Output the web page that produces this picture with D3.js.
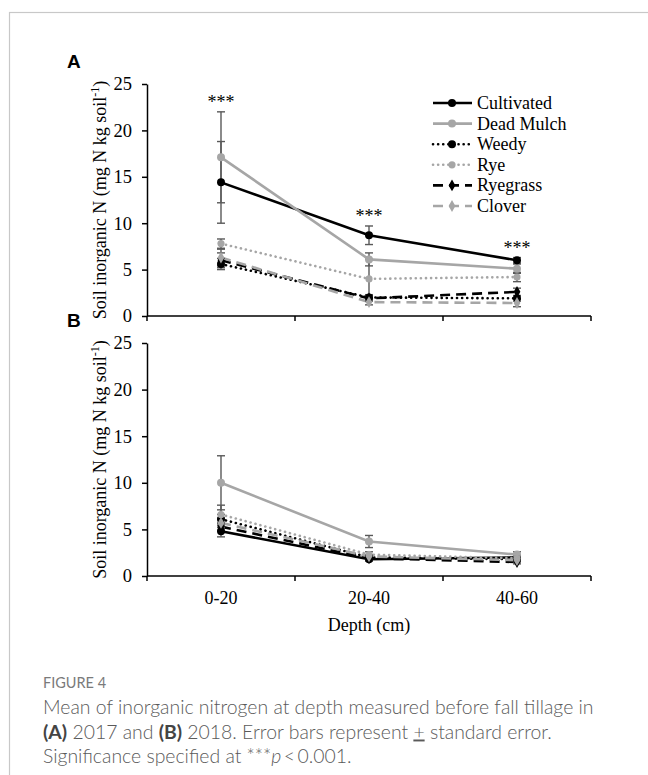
<!DOCTYPE html>
<html><head><meta charset="utf-8">
<script src="https://cdn.jsdelivr.net/npm/d3@7"></script>
<style>body{margin:0;background:#fff}</style></head>
<body>
<svg id="c" width="648" height="775"></svg>
<script>
// ---- data ----
const depths = ["0-20", "20-40", "40-60"];
const seriesNames = ["Cultivated", "Dead Mulch", "Weedy", "Rye", "Ryegrass", "Clover"];
const yTicks = [0, 5, 10, 15, 20, 25];
const sigLabelsA = ["***", "***", "***"];

// Panel A (2017) means and standard errors
const cultivatedA = [14.4, 8.7, 6.0],  cultivatedASE = [4.4, 1.0, 0.3];
const deadMulchA  = [17.1, 6.1, 5.1],  deadMulchASE  = [4.9, 0.7, 0.5];
const weedyA      = [5.6, 2.0, 1.9],   weedyASE      = [0.6, 0.3, 0.3];
const ryeA        = [7.8, 4.0, 4.2],   ryeASE        = [0.5, 2.1, 0.5];
const ryegrassA   = [6.0, 1.9, 2.6],   ryegrassASE   = [0.8, 0.3, 0.4];
const cloverA     = [6.3, 1.5, 1.4],   cloverASE     = [0.9, 0.3, 0.4];

// Panel B (2018) means and standard errors
const cultivatedB = [4.8, 1.8, 2.0],   cultivatedBSE = [0.6, 0.2, 0.2];
const deadMulchB  = [10.0, 3.7, 2.3],  deadMulchBSE  = [2.9, 0.65, 0.3];
const weedyB      = [6.1, 2.0, 1.8],   weedyBSE      = [0.5, 0.2, 0.2];
const ryeB        = [6.6, 2.3, 1.9],   ryeBSE        = [1.0, 0.3, 0.3];
const ryegrassB   = [5.3, 1.9, 1.5],   ryegrassBSE   = [0.4, 0.2, 0.2];
const cloverB     = [5.7, 2.1, 1.7],   cloverBSE     = [0.5, 0.2, 0.2];

const panelAMeans = [cultivatedA, deadMulchA, weedyA, ryeA, ryegrassA, cloverA];
const panelASEs   = [cultivatedASE, deadMulchASE, weedyASE, ryeASE, ryegrassASE, cloverASE];
const panelBMeans = [cultivatedB, deadMulchB, weedyB, ryeB, ryegrassB, cloverB];
const panelBSEs   = [cultivatedBSE, deadMulchBSE, weedyBSE, ryeBSE, ryegrassBSE, cloverBSE];

// ---- styles ----
const BLACK = "#000", GRAY = "#a6a6a6";
const styles = [
  {color: BLACK, dash: null, marker: "circle"},
  {color: GRAY,  dash: null, marker: "circle"},
  {color: BLACK, dash: "0.1,5", marker: "circle"},
  {color: GRAY,  dash: "0.1,5", marker: "square"},
  {color: BLACK, dash: "10,6", marker: "diamond"},
  {color: GRAY,  dash: "10,6", marker: "diamond"}
];
const SERIF = "'Liberation Serif','Times New Roman',serif";

const svg = d3.select("#c");

// frame
svg.append("rect").attr("x", 9.5).attr("y", 12.5).attr("width", 700).attr("height", 800)
  .attr("fill", "none").attr("stroke", "#c8c8c8").attr("stroke-width", 1.2);

const x = d3.scaleBand().domain(depths).range([147, 591]);

function drawPanel(top, bottom, label, means, ses, sig, showXLabels) {
  const y = d3.scaleLinear().domain([0, 25]).range([bottom, top]);
  const g = svg.append("g");

  // panel letter
  g.append("text").attr("x", 67).attr("y", top - 16).text(label)
    .attr("font-family", "'Liberation Sans',Arial,sans-serif").attr("font-weight", "bold")
    .attr("font-size", 19).attr("fill", "#000");

  // y axis
  const ya = g.append("g").attr("transform", "translate(147,0)")
    .call(d3.axisLeft(y).tickValues(yTicks).tickSize(5).tickSizeOuter(0).tickPadding(10));
  ya.select(".domain").attr("stroke", "#000").attr("stroke-width", 1.5);
  ya.selectAll(".tick line").attr("stroke", "#000").attr("stroke-width", 1.5);
  ya.selectAll(".tick text").attr("font-family", SERIF).attr("font-size", 18.5).attr("fill", "#000");

  // x axis
  const xa = g.append("g").attr("transform", `translate(0,${bottom})`);
  xa.append("line").attr("x1", 147).attr("x2", 591).attr("stroke", "#000").attr("stroke-width", 1.5);
  const bounds = depths.map(d => x(d)).concat([x.range()[1]]);
  xa.selectAll("line.tk").data(bounds).join("line").attr("class", "tk")
    .attr("x1", d => d).attr("x2", d => d).attr("y1", 0).attr("y2", 5)
    .attr("stroke", "#000").attr("stroke-width", 1.5);
  if (showXLabels) {
    xa.selectAll("text").data(depths).join("text")
      .attr("x", d => x(d) + x.bandwidth() / 2).attr("y", 28)
      .attr("text-anchor", "middle").attr("font-family", SERIF).attr("font-size", 18).text(d => d);
  }

  // y label
  const cy = (top + bottom) / 2;
  const yl = g.append("text").attr("transform", `translate(106,${cy}) rotate(-90)`)
    .attr("text-anchor", "middle").attr("font-family", SERIF).attr("font-size", 18).attr("fill", "#000");
  yl.append("tspan").text("Soil inorganic N (mg N kg soil");
  yl.append("tspan").text("-1").attr("font-size", 12).attr("dy", -7);
  yl.append("tspan").text(")").attr("dy", 7);

  const cx = d => x(d) + x.bandwidth() / 2;

  // lines
  means.forEach((vals, i) => {
    const st = styles[i];
    const pts = depths.map((d, j) => [cx(d), y(vals[j])]);
    g.append("path").attr("d", d3.line()(pts)).attr("fill", "none")
      .attr("stroke", st.color).attr("stroke-width", 2.6)
      .attr("stroke-dasharray", st.dash).attr("stroke-linecap", st.dash && st.dash.startsWith("0.1") ? "round" : "butt");
  });
  // error bars
  means.forEach((vals, i) => {
    depths.forEach((d, j) => {
      const hi = y(vals[j] + ses[i][j]), lo = y(vals[j] - ses[i][j]), xx = cx(d);
      const eb = g.append("g").attr("stroke", "#595959").attr("stroke-width", 1.4);
      eb.append("line").attr("x1", xx).attr("x2", xx).attr("y1", hi).attr("y2", lo);
      eb.append("line").attr("x1", xx - 4).attr("x2", xx + 4).attr("y1", hi).attr("y2", hi);
      eb.append("line").attr("x1", xx - 4).attr("x2", xx + 4).attr("y1", lo).attr("y2", lo);
    });
  });
  // markers
  means.forEach((vals, i) => {
    depths.forEach((d, j) => drawMarker(g, styles[i], cx(d), y(vals[j])));
  });

  // significance
  if (sig) {
    depths.forEach((d, j) => {
      const topVal = d3.max(means.map((v, i) => v[j] + ses[i][j]));
      g.append("text").attr("x", cx(d)).attr("y", y(topVal) - 4).attr("text-anchor", "middle")
        .attr("font-family", SERIF).attr("font-size", 18).text(sig[j]);
    });
  }
  return y;
}

function drawMarker(g, st, mx, my) {
  if (st.marker === "circle") {
    g.append("circle").attr("cx", mx).attr("cy", my).attr("r", 4).attr("fill", st.color);
  } else if (st.marker === "square") {
    g.append("circle").attr("cx", mx).attr("cy", my).attr("r", 3.6).attr("fill", st.color);
  } else {
    g.append("path").attr("d", d3.symbol(d3.symbolDiamond, 40)()).attr("transform", `translate(${mx},${my})`)
      .attr("fill", st.color);
  }
}

drawPanel(84, 316, "A", panelAMeans, panelASEs, sigLabelsA, false);
drawPanel(343, 576, "B", panelBMeans, panelBSEs, null, true);

// x label
svg.append("text").attr("x", 369).attr("y", 631).attr("text-anchor", "middle")
  .attr("font-family", SERIF).attr("font-size", 18).text("Depth (cm)");

// legend
const lg = svg.append("g");
seriesNames.forEach((name, i) => {
  const ly = 103 + i * 20.6, st = styles[i];
  lg.append("line").attr("x1", 433).attr("x2", 472).attr("y1", ly).attr("y2", ly)
    .attr("stroke", st.color).attr("stroke-width", 2.6).attr("stroke-dasharray", st.dash)
    .attr("stroke-linecap", st.dash && st.dash.startsWith("0.1") ? "round" : "butt");
  drawMarker(lg, st, 452, ly);
  lg.append("text").attr("x", 477).attr("y", ly + 6).attr("font-family", SERIF).attr("font-size", 18).text(name);
});

// caption
const CAP = "Lato,'Open Sans',sans-serif";
svg.append("text").attr("x", 43).attr("y", 688).attr("font-family", CAP).attr("font-size", 14.5)
  .attr("fill", "#7a7a7a").text("FIGURE 4");
const capLines = [
  [["Mean of inorganic nitrogen at depth measured before fall tillage in", false]],
  [["(A)", true], [" 2017 and ", false], ["(B)", true], [" 2018. Error bars represent ", false], ["+", false, "u"], [" standard error.", false]],
  [["Significance specified at ***", false], ["p", false, "i"], ["\u2009<\u20090.001.", false]]
];
capLines.forEach((parts, k) => {
  const t = svg.append("text").attr("x", 43).attr("y", 714 + k * 24.5).attr("font-family", CAP)
    .attr("font-size", 19.4).attr("fill", "#5a5a5a").attr("font-weight", 300);
  parts.forEach(p => {
    const ts = t.append("tspan").text(p[0]);
    if (p[1]) ts.attr("font-weight", 700).attr("fill", "#444");
    if (p[2] === "u") ts.attr("text-decoration", "underline");
    if (p[2] === "i") ts.attr("font-style", "italic");
  });
});
</script>
</body></html>
